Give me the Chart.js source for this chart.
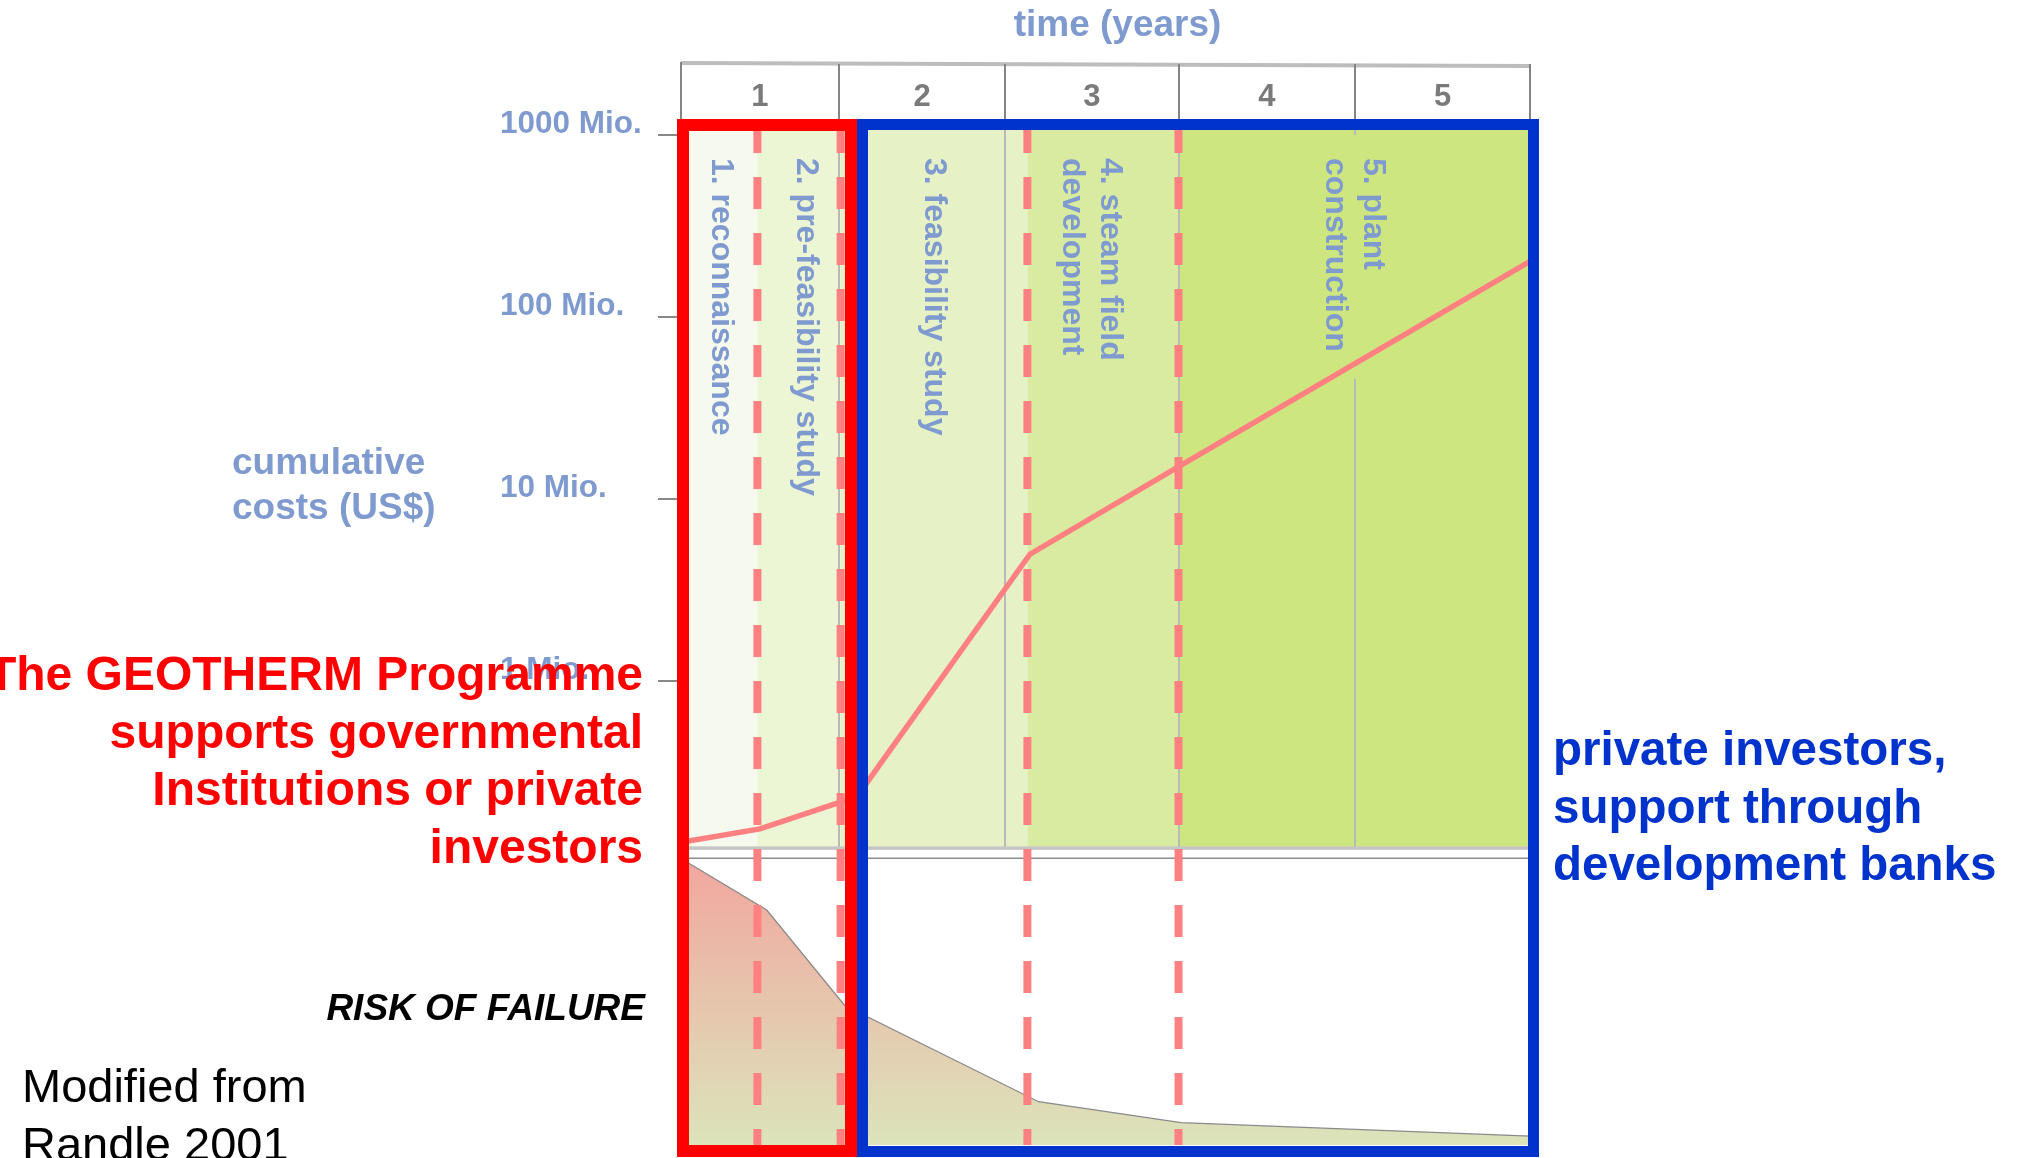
<!DOCTYPE html>
<html><head><meta charset="utf-8">
<script src="https://cdn.jsdelivr.net/npm/chart.js@4.4.1/dist/chart.umd.min.js"></script>
<style>html,body{margin:0;padding:0;background:#fff;overflow:hidden}canvas{display:block}</style>
</head><body>
<canvas id="c" width="2023" height="1158"></canvas>
<script>
// ---- data ----
const yearLabels = ['1', '2', '3', '4', '5'];
const yearEdges = [0, 0.93, 1.91, 2.93, 3.97, 5];
const phaseNames = [['1. reconnaissance'], ['2. pre-feasibility study'], ['3. feasibility study'], ['4. steam field', 'development'], ['5. plant', 'construction']];
const phaseEdges = [0, 0.45, 0.94, 2.04, 2.93, 5];
const supportSplit = 1.035;
const costTicks = [1, 10, 100, 1000];
const costTickLabels = ['1 Mio.', '10 Mio.', '100 Mio.', '1000 Mio.'];
const costYears = [0, 0.465, 1.036, 2.055, 2.933, 5];
const costMio = [0.131, 0.155, 0.233, 5.0, 15.2, 203];
const riskYears = [0, 0.505, 0.964, 2.106, 2.945, 5];
const riskPct = [100, 82, 48.7, 15.1, 7.8, 3.1];
const timeTitle = 'time (years)';
const costTitle = ['cumulative', 'costs (US$)'];
const riskTitle = 'RISK OF FAILURE';
const publicText = ['The GEOTHERM Programme', 'supports governmental', 'Institutions or private', 'investors'];
const privateText = ['private investors,', 'support through', 'development banks'];
const sourceText = ['Modified from', 'Randle 2001'];

// ---- styles ----
const FONT = '"Liberation Sans", Arial, Helvetica, sans-serif';
const COL = {
  axisBlue: '#7f9acf', red: '#ff0000', blue: '#0033cc', dash: '#ff8080', cost: '#ff8080',
  phase: ['#f6f9ee', '#ecf5d4', '#e6f2c6', '#d9eba0', '#cee680']
};
const phaseLabelDx = [2, 7, 0, -12, 0];
Chart.defaults.font.family = FONT;

function frame(ctx, l, t, r, b, w, color) {
  ctx.fillStyle = color;
  ctx.fillRect(l, t, r - l, w);
  ctx.fillRect(l, b - w, r - l, w);
  ctx.fillRect(l, t, w, b - t);
  ctx.fillRect(r - w, t, w, b - t);
}
function textLines(ctx, lines, x, y0, lh) {
  lines.forEach((t, i) => ctx.fillText(t, x, y0 + i * lh));
}
function noPad(s) { s.paddingTop = 0; s.paddingBottom = 0; s.paddingLeft = 0; s.paddingRight = 0; }

const deco = {
  id: 'deco',
  beforeDatasetsDraw(chart) {
    const { ctx, chartArea: a, scales } = chart;
    const x = scales.x, yr = scales.yRisk;
    const top = a.top - 12;
    const pb = yr.getPixelForValue(103.7);
    ctx.save();
    phaseNames.forEach((_, i) => {
      const x0 = x.getPixelForValue(phaseEdges[i]), x1 = x.getPixelForValue(phaseEdges[i + 1]);
      ctx.fillStyle = COL.phase[i];
      ctx.fillRect(x0, top, x1 - x0, pb - top);
    });
    ctx.strokeStyle = '#b9b9b9'; ctx.lineWidth = 2;
    yearEdges.slice(1, -1).forEach(v => {
      const px = Math.round(x.getPixelForValue(v));
      ctx.beginPath(); ctx.moveTo(px, top); ctx.lineTo(px, pb); ctx.stroke();
    });
    ctx.fillStyle = '#c6c6c6'; ctx.fillRect(a.left, pb - 1.5, a.width, 3.5);
    const pr = Math.round(yr.getPixelForValue(100));
    ctx.fillStyle = '#8c8c8c'; ctx.fillRect(a.left, pr - 0.5, a.width, 1.5);
    // phase labels (rotated), each on a box of its phase colour
    ctx.font = `bold 32px ${FONT}`;
    ctx.textAlign = 'left'; ctx.textBaseline = 'middle';
    const lh = 38;
    phaseNames.forEach((lines, i) => {
      const cx = (x.getPixelForValue(phaseEdges[i]) + x.getPixelForValue(phaseEdges[i + 1])) / 2 + phaseLabelDx[i];
      const len = Math.max(...lines.map(t => ctx.measureText(t).width));
      const bw = lines.length * lh + 10;
      ctx.fillStyle = COL.phase[i];
      ctx.fillRect(cx - bw / 2, a.top + 4, bw, len + 50);
      ctx.fillStyle = COL.axisBlue;
      ctx.save(); ctx.translate(cx, a.top + 27); ctx.rotate(Math.PI / 2);
      lines.forEach((t, j) => ctx.fillText(t, 0, (j - (lines.length - 1) / 2) * lh));
      ctx.restore();
    });
    ctx.restore();
  },
  afterDatasetDraw(chart, args) {
    if (args.index !== 1) return;
    const { ctx, chartArea: a, scales: { x } } = chart;
    ctx.save();
    ctx.strokeStyle = COL.dash; ctx.lineWidth = 8; ctx.setLineDash([32, 24]);
    phaseEdges.slice(1, -1).forEach(v => {
      const px = x.getPixelForValue(v);
      ctx.beginPath(); ctx.moveTo(px, a.top - 10); ctx.lineTo(px, a.bottom); ctx.stroke();
    });
    ctx.restore();
  },
  afterDraw(chart) {
    const { ctx, chartArea: a, scales: { x } } = chart;
    ctx.save();
    // header table
    const ht = a.top - 69;
    ctx.strokeStyle = '#bdbdbd'; ctx.lineWidth = 4;
    ctx.beginPath(); ctx.moveTo(a.left, ht + 1); ctx.lineTo(a.right, ht + 4); ctx.stroke();
    ctx.strokeStyle = '#858585'; ctx.lineWidth = 2;
    yearEdges.forEach((v, i) => {
      const px = Math.round(x.getPixelForValue(v));
      ctx.beginPath(); ctx.moveTo(px, ht + (i ? 2 : 0)); ctx.lineTo(px, a.top - 12 + (i === 0 ? 6 : 0)); ctx.stroke();
    });
    // support boxes
    const split = Math.round(x.getPixelForValue(supportSplit));
    frame(ctx, a.left - 4, a.top - 12, split, a.bottom + 12, 12, COL.red);
    frame(ctx, split, a.top - 12, a.right + 9, a.bottom + 12, 11, COL.blue);
    // titles
    ctx.textBaseline = 'alphabetic';
    ctx.fillStyle = COL.axisBlue; ctx.font = `bold 37px ${FONT}`;
    ctx.textAlign = 'center';
    ctx.fillText(timeTitle, (a.left + a.right) / 2 + 12, 36);
    ctx.textAlign = 'left';
    textLines(ctx, costTitle, 232, 474, 45);
    // left red text
    ctx.fillStyle = COL.red; ctx.font = `bold 48px ${FONT}`; ctx.textAlign = 'right';
    textLines(ctx, publicText, 643, 690, 57.5);
    // right blue text
    ctx.fillStyle = COL.blue; ctx.font = `bold 47.5px ${FONT}`; ctx.textAlign = 'left';
    textLines(ctx, privateText, 1553, 765, 57.5);
    // risk label
    ctx.fillStyle = '#000'; ctx.font = `italic bold 37px ${FONT}`; ctx.textAlign = 'right';
    ctx.fillText(riskTitle, 645, 1020);
    // source
    ctx.font = `47px ${FONT}`; ctx.textAlign = 'left';
    textLines(ctx, sourceText, 22, 1102, 58);
    ctx.restore();
  }
};

const riskFill = (c) => {
  const chart = c.chart; const a = chart.chartArea;
  if (!a) return 'rgba(0,0,0,0)';
  const yr = chart.scales.yRisk;
  const g = chart.ctx.createLinearGradient(0, yr.getPixelForValue(100), 0, yr.getPixelForValue(0));
  g.addColorStop(0, '#f2a69f'); g.addColorStop(1, '#dbe4bb');
  return g;
};

new Chart(document.getElementById('c'), {
  type: 'line',
  data: {
    datasets: [
      {
        label: 'cumulative costs', yAxisID: 'yCost',
        data: costYears.map((v, i) => ({ x: v, y: costMio[i] })),
        borderColor: COL.cost, borderWidth: 5.5, pointRadius: 0, fill: false, tension: 0
      },
      {
        label: 'risk of failure', yAxisID: 'yRisk',
        data: riskYears.map((v, i) => ({ x: v, y: riskPct[i] })),
        borderColor: '#8a8a8a', borderWidth: 1.3, pointRadius: 0, fill: 'origin', tension: 0,
        backgroundColor: riskFill
      }
    ]
  },
  options: {
    responsive: false, animation: false, devicePixelRatio: 1,
    layout: { padding: { left: 500, top: 62, right: 493, bottom: 13 } },
    plugins: { legend: { display: false }, tooltip: { enabled: false }, title: { display: false } },
    scales: {
      x: {
        type: 'linear', position: 'top', min: 0, max: 5,
        grid: { display: false, drawTicks: false }, border: { display: false },
        afterFit: s => { s.height = 69; noPad(s); },
        afterBuildTicks: s => { s.ticks = yearLabels.map((_, i) => ({ value: (yearEdges[i] + yearEdges[i + 1]) / 2 })); },
        ticks: {
          callback: (v, i) => yearLabels[i], autoSkip: false, maxRotation: 0, padding: 15,
          color: '#7a7a7a', font: { size: 31, weight: 'bold' }
        }
      },
      yCost: {
        type: 'logarithmic', position: 'left', min: 0.00285, max: 1054,
        afterFit: s => { s.width = 181; noPad(s); },
        afterBuildTicks: s => { s.ticks = costTicks.map(v => ({ value: v })); },
        grid: { drawOnChartArea: false, tickLength: 23, color: '#888', lineWidth: 2 },
        border: { display: false },
        ticks: {
          callback: (v, i) => costTickLabels[i], autoSkip: false, crossAlign: 'far', labelOffset: -11,
          color: COL.axisBlue, font: { size: 31.5, weight: 'bold' }
        }
      },
      yRisk: { type: 'linear', display: false, min: 0, max: 353.9 }
    }
  },
  plugins: [deco]
});
</script>
</body></html>
